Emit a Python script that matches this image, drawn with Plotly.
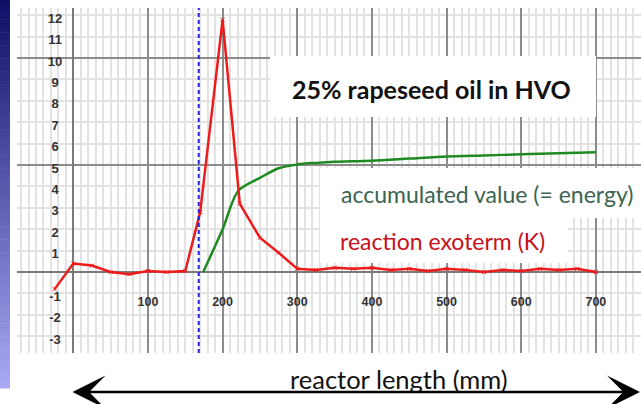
import plotly.graph_objects as go

# ---- data ----
exo_x = [-25, 0, 25, 50, 75, 100, 125, 150, 170, 200, 223, 250, 275, 300,
         325, 350, 375, 400, 425, 450, 475, 500, 525, 550, 575, 600, 625, 650, 675, 700]
exo_y = [-0.8, 0.4, 0.3, 0.0, -0.1, 0.05, 0.0, 0.05, 2.8, 11.8, 3.2, 1.6, 0.9, 0.15,
         0.1, 0.2, 0.15, 0.2, 0.1, 0.15, 0.05, 0.15, 0.1, 0.0, 0.1, 0.05, 0.15, 0.1, 0.15, 0.0]

acc_x = [174, 200, 221, 250, 275, 300, 325, 350, 400, 450, 500, 550, 600, 650, 700]
acc_y = [0.0, 2.0, 3.8, 4.4, 4.85, 5.03, 5.1, 5.15, 5.2, 5.3, 5.4, 5.45, 5.5, 5.55, 5.6]

start_x = 168  # dashed marker line

x_ticks = [100, 200, 300, 400, 500, 600, 700]
y_ticks = [-3, -2, -1, 1, 2, 3, 4, 5, 6, 7, 8, 9, 10, 11, 12]

title_text = "25% rapeseed oil in HVO"
acc_label = "accumulated value (= energy)"
exo_label = "reaction exoterm (K)"
axis_label = "reactor length (mm)"

# ---- geometry helpers (pixel -> paper) ----
W, H = 641, 404
L, R, T, B = 17, 0, 8, 51
PW, PH = W - L - R, H - T - B


def px(xp):
    return (xp - L) / PW


def py(yp):
    return (H - B - yp) / PH


fig = go.Figure()

fig.add_trace(go.Scatter(x=acc_x, y=acc_y, mode="lines",
                         line=dict(color="#1f8a22", width=2.5, shape="spline", smoothing=0.8),
                         hoverinfo="skip", showlegend=False))
fig.add_trace(go.Scatter(x=exo_x, y=exo_y, mode="lines+markers",
                         line=dict(color="#ee1b1b", width=2.5),
                         marker=dict(symbol="x-thin", size=4, line=dict(width=1, color="#ee1b1b")),
                         hoverinfo="skip", showlegend=False))

# tick labels as text
fig.add_trace(go.Scatter(x=x_ticks, y=[-1.45] * len(x_ticks), mode="text",
                         text=[str(v) for v in x_ticks],
                         textfont=dict(family="Liberation Sans", size=12.5, color="#333333", weight="bold"),
                         hoverinfo="skip", showlegend=False))
fig.add_trace(go.Scatter(x=[-24.5] * len(y_ticks), y=[v - 0.2 for v in y_ticks], mode="text",
                         text=[str(v) for v in y_ticks],
                         textfont=dict(family="Liberation Sans", size=13, color="#333333", weight="bold"),
                         hoverinfo="skip", showlegend=False))

shapes = []
# white text boxes (cover grid)
for (x0, x1, y0, y1) in [(270, 596, 56, 117), (320, 641, 168, 218), (320, 568, 218, 263)]:
    shapes.append(dict(type="rect", xref="paper", yref="paper",
                       x0=px(x0), x1=px(x1), y0=py(y1), y1=py(y0),
                       fillcolor="white", line=dict(width=0), layer="above"))

# dashed start line
shapes.append(dict(type="line", xref="x", yref="paper", x0=start_x, x1=start_x, y0=0, y1=1,
                   line=dict(color="#2222dd", width=2, dash="4px,3px"), layer="above"))

# left gradient bar
n = 60
top_c = (16, 16, 105)
bot_c = (168, 168, 245)
bar_top, bar_bot = 0, 388
for i in range(n):
    t = i / (n - 1)
    c = tuple(int(top_c[k] + (bot_c[k] - top_c[k]) * t) for k in range(3))
    y0p = bar_top + (bar_bot - bar_top) * i / n
    y1p = bar_top + (bar_bot - bar_top) * (i + 1) / n + 0.5
    shapes.append(dict(type="rect", xref="paper", yref="paper",
                       x0=px(0), x1=px(10), y0=py(y1p), y1=py(y0p),
                       fillcolor="rgb(%d,%d,%d)" % c, line=dict(width=0), layer="above"))

annotations = [
    dict(xref="paper", yref="paper", x=px(431), y=py(89), text="<b>" + title_text + "</b>",
         xanchor="center", yanchor="middle",
         showarrow=False, font=dict(family="Lato", size=25, color="#111111")),
    dict(xref="paper", yref="paper", x=px(487), y=py(194), text=acc_label,
         xanchor="center", yanchor="middle",
         showarrow=False, font=dict(family="Lato", size=23, color="#3b6452")),
    dict(xref="paper", yref="paper", x=px(442), y=py(241), text=exo_label,
         xanchor="center", yanchor="middle",
         showarrow=False, font=dict(family="Lato", size=23, color="#c8101a")),
    dict(xref="paper", yref="paper", x=px(399), y=py(379), text=axis_label,
         xanchor="center", yanchor="middle",
         showarrow=False, font=dict(family="Lato", size=25.5, color="#111111")),
    # double-headed arrow
    dict(xref="paper", yref="paper", axref="pixel", ayref="pixel",
         x=px(640), y=py(392), ax=-(640 - 71), ay=0, text="",
         showarrow=True, arrowhead=3, startarrowhead=3, arrowside="end+start",
         arrowsize=2.2, startarrowsize=2.2, arrowwidth=2.5, arrowcolor="#000000"),
]

fig.update_layout(
    width=W, height=H,
    margin=dict(l=L, r=R, t=T, b=B),
    paper_bgcolor="white", plot_bgcolor="white",
    shapes=shapes, annotations=annotations,
    xaxis=dict(range=[-75.4, 760.4], tick0=0, dtick=100, showgrid=True,
               gridcolor="#8c8c8c", gridwidth=1.5, zeroline=True, zerolinecolor="#7a7a7a",
               zerolinewidth=2, showticklabels=False, ticks="", showline=False,
               minor=dict(dtick=10, tick0=0, showgrid=True, gridcolor="#e2e2e2", gridwidth=1.5)),
    yaxis=dict(range=[-3.785, 12.34], tick0=0, dtick=5, showgrid=True,
               gridcolor="#8c8c8c", gridwidth=1.5, zeroline=True, zerolinecolor="#7a7a7a",
               zerolinewidth=2, showticklabels=False, ticks="", showline=False,
               minor=dict(dtick=1, tick0=0, showgrid=True, gridcolor="#e2e2e2", gridwidth=1.5)),
)

fig.write_html("out.html", config={"displayModeBar": False},
               post_script="document.body.style.margin='0';")
